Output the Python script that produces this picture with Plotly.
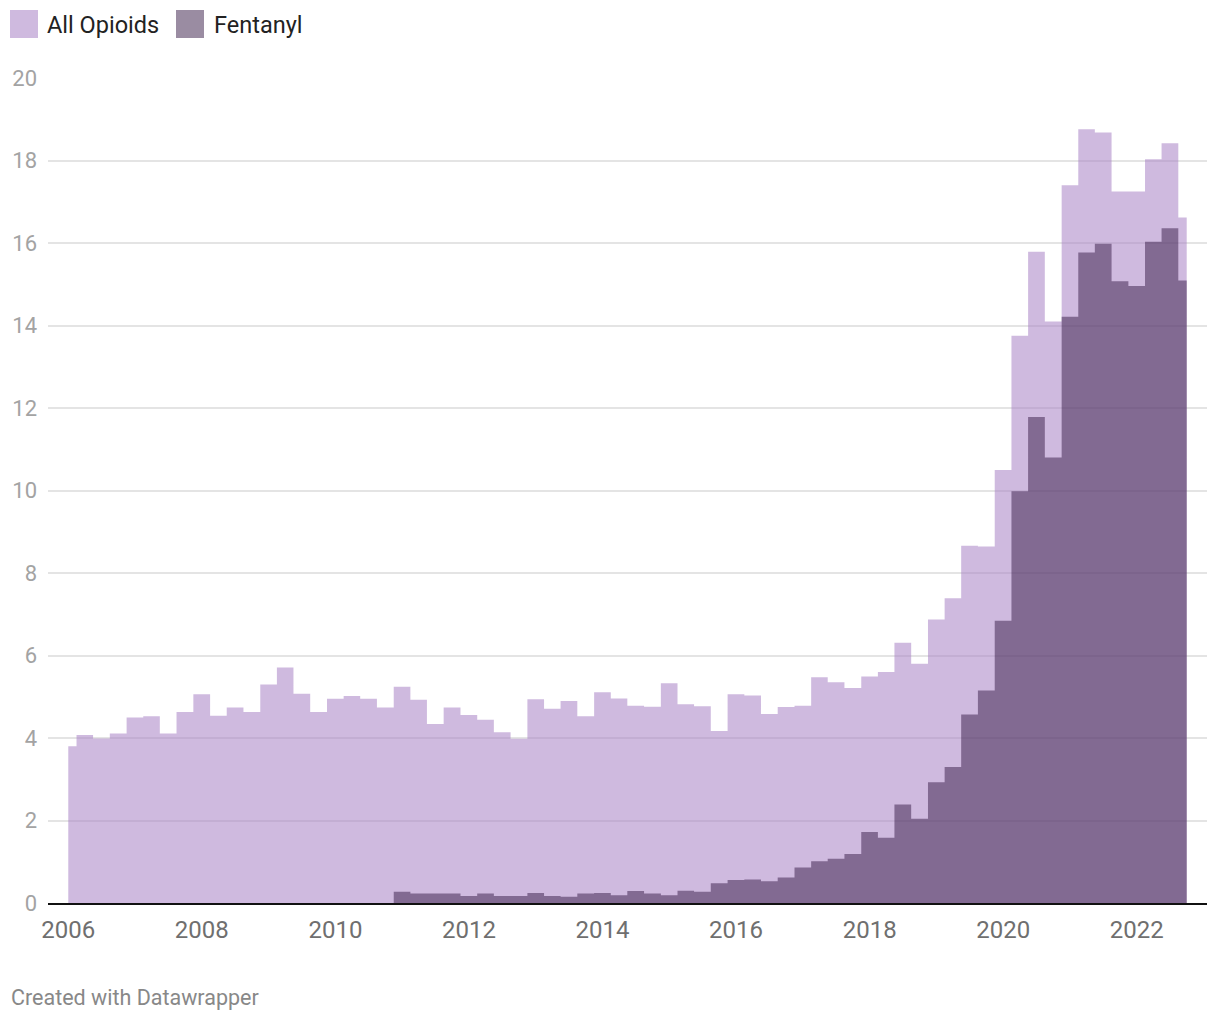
import plotly.graph_objects as go

# ---- data ----
years = list(range(2006, 2023))
quarter_months = ["01", "04", "07", "10"]
dates = [f"{y}-{m}-01" for y in years for m in quarter_months]

all_opioids = [
    3.80, 4.07, 3.99, 4.11, 4.50, 4.53, 4.11, 4.63, 5.06, 4.54, 4.74, 4.63,
    5.30, 5.71, 5.07, 4.63, 4.95, 5.02, 4.95, 4.74, 5.24, 4.93, 4.34, 4.74,
    4.56, 4.44, 4.14, 3.98, 4.94, 4.71, 4.90, 4.53, 5.11, 4.96, 4.78, 4.76,
    5.33, 4.82, 4.77, 4.17, 5.06, 5.03, 4.58, 4.75, 4.78, 5.47, 5.35, 5.21,
    5.49, 5.60, 6.31, 5.80, 6.87, 7.39, 8.66, 8.64, 10.50, 13.75, 15.79, 14.10,
    17.40, 18.76, 18.68, 17.25, 17.25, 18.03, 18.42, 16.62,
]
fentanyl = [
    0, 0, 0, 0, 0, 0, 0, 0, 0, 0, 0, 0, 0, 0, 0, 0, 0, 0, 0, 0,
    0.27, 0.23, 0.23, 0.23, 0.17, 0.23, 0.17, 0.17, 0.24, 0.17, 0.15, 0.23,
    0.24, 0.19, 0.29, 0.23, 0.19, 0.30, 0.27, 0.48, 0.56, 0.57, 0.53, 0.62,
    0.86, 1.01, 1.07, 1.19, 1.72, 1.58, 2.39, 2.04, 2.93, 3.30, 4.57, 5.15,
    6.84, 9.98, 11.78, 10.80, 14.21, 15.77, 15.98, 15.07, 14.96, 16.03, 16.36, 15.09,
]
series_names = ["All Opioids", "Fentanyl"]
y_ticks = [0, 2, 4, 6, 8, 10, 12, 14, 16, 18, 20]
x_tick_years = list(range(2006, 2023, 2))

# ---- style ----
W, H = 1220, 1020
L, R, T, B = 48, 13, 78, 117
col_all = "rgba(168,130,197,0.55)"
col_fen = "rgba(53,26,69,0.5)"
leg_all = "#cfbadf"
leg_fen = "#9a8ca2"
FONT = "Roboto"

fig = go.Figure()
fig.add_trace(go.Scatter(
    x=dates, y=all_opioids, name=series_names[0], mode="lines",
    line=dict(shape="hvh", width=0, color=col_all),
    fill="tozeroy", fillcolor=col_all, showlegend=False,
))
fig.add_trace(go.Scatter(
    x=dates, y=fentanyl, name=series_names[1], mode="lines",
    line=dict(shape="hvh", width=0, color=col_fen),
    fill="tozeroy", fillcolor=col_fen, showlegend=False,
))

pw = W - L - R
ph = H - T - B


def px_x(p):
    return (p - L) / pw


def px_y(p):
    return (H - B - p) / ph


# custom legend
legend_items = [(series_names[0], leg_all, 10, 45), (series_names[1], leg_fen, 176, 212)]
for name, c, sx, tx in legend_items:
    fig.add_shape(type="rect", xref="paper", yref="paper",
                  x0=px_x(sx), x1=px_x(sx + 28), y0=px_y(38), y1=px_y(10),
                  fillcolor=c, line=dict(width=0))
    fig.add_annotation(text=name, xref="paper", yref="paper",
                       x=px_x(tx), y=px_y(25), xanchor="left", yanchor="middle",
                       showarrow=False, font=dict(family=FONT, size=23.5, color="#222222"))

fig.add_annotation(text="Created with Datawrapper", xref="paper", yref="paper",
                   x=px_x(9), y=px_y(997), xanchor="left", yanchor="middle",
                   showarrow=False, font=dict(family=FONT, size=21.5, color="#888888"))

fig.update_layout(
    width=W, height=H,
    margin=dict(l=L, r=R, t=T, b=B),
    paper_bgcolor="white", plot_bgcolor="white",
    font=dict(family=FONT),
    xaxis=dict(
        type="date",
        range=["2005-09-12", "2023-01-20"],
        tickvals=[f"{y}-01-01" for y in x_tick_years],
        ticktext=[str(y) for y in x_tick_years],
        showgrid=False, showline=True, linecolor="#111111", linewidth=2,
        ticks="", tickfont=dict(family=FONT, size=24, color="#6f6f6f"),
        ticklabelstandoff=4, zeroline=False, fixedrange=True,
    ),
    yaxis=dict(
        range=[0, 20],
        tickvals=y_ticks,
        showgrid=True, gridcolor="#e4e4e4", gridwidth=2,
        zeroline=False, showline=False, ticks="",
        tickfont=dict(family=FONT, size=22, color="#a3a3a3"),
        ticklabelstandoff=10, fixedrange=True,
    ),
)

fig.write_html(
    "out.html",
    config={"displayModeBar": False},
    post_script="document.body.style.margin='0';document.body.style.overflow='hidden';",
)
